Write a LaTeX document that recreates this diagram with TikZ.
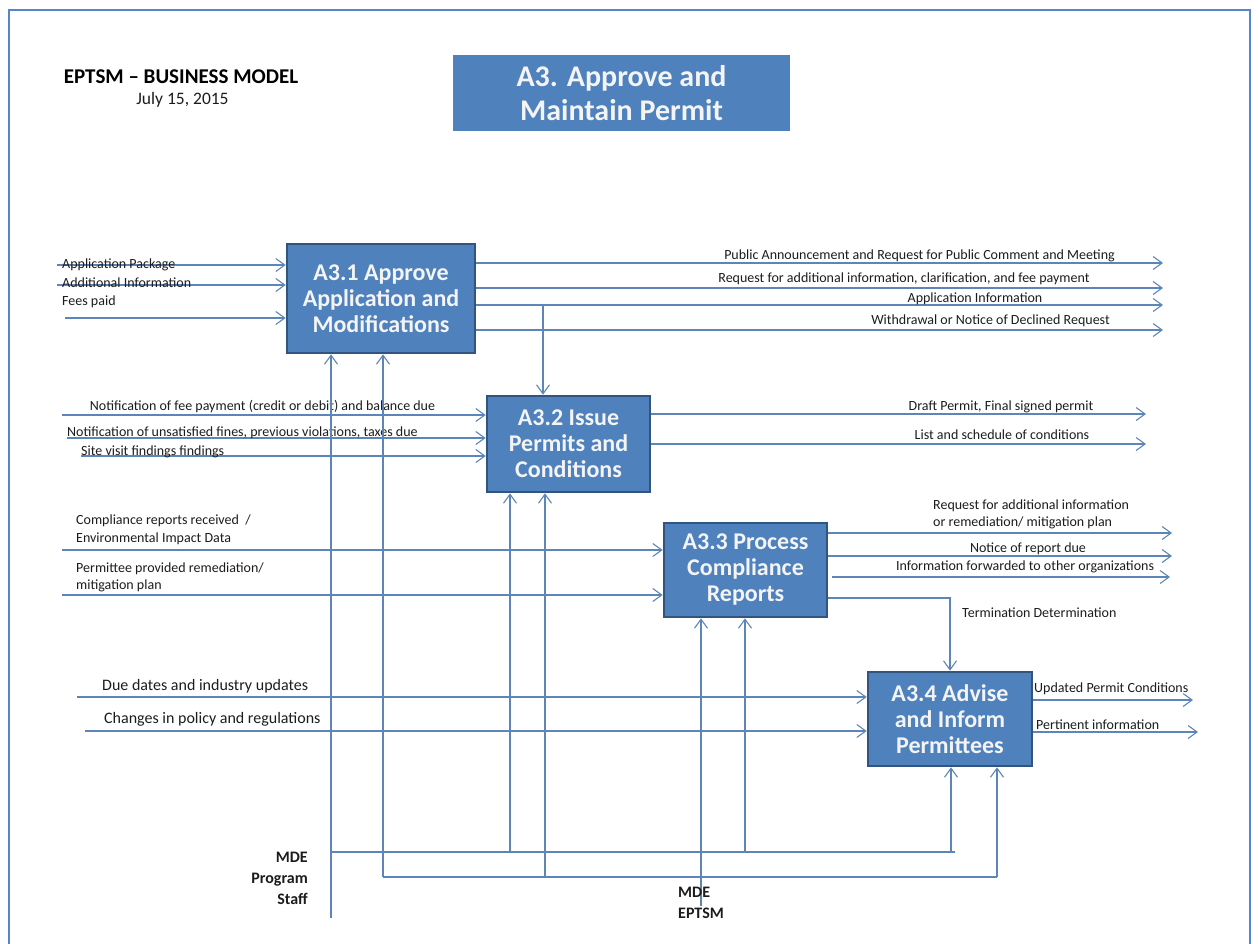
\documentclass[tikz,border=0pt]{standalone}
\usepackage{fontspec}
\setmainfont{Carlito}
\usetikzlibrary{arrows.meta}
\definecolor{procfill}{RGB}{79,129,189}
\definecolor{procedge}{RGB}{50,85,128}
\definecolor{flowline}{RGB}{92,134,184}
\definecolor{framecol}{RGB}{84,134,200}
\definecolor{labeltext}{RGB}{28,28,28}
\definecolor{boxtext}{RGB}{244,244,244}

\begin{document}
\begin{tikzpicture}[x=1pt,y=-1pt,
  proc/.style={draw=procedge, fill=procfill, line width=2.6pt, text=boxtext,
    font=\fontsize{24}{26}\selectfont\bfseries, align=center, inner sep=0pt},
  flow/.style={draw=flowline, line width=1.1pt, -{Straight Barb[length=9pt,width=13pt]}},
  wire/.style={draw=flowline, line width=1.1pt},
  lab/.style={text=labeltext, font=\fontsize{14}{17}\selectfont, inner sep=0pt},
  biglab/.style={text=labeltext, font=\fontsize{16}{19}\selectfont, inner sep=0pt},
  mechlab/.style={text=labeltext, font=\fontsize{16}{21}\selectfont\bfseries, inner sep=0pt},
]
\useasboundingbox (0,0) rectangle (1259,943);
\draw[framecol, line width=1.6pt] (9,10) rectangle (1250,990);

% heading
\node[text=black, font=\fontsize{21}{24}\selectfont\bfseries, inner sep=0pt] (model) at (181,77) {EPTSM – BUSINESS MODEL};
\node[labeltext, font=\fontsize{17.5}{21}\selectfont, inner sep=0pt] (date) at (182.5,100) {July 15, 2015};
\node[fill=procfill, minimum width=337pt, minimum height=76pt, inner sep=0pt, text=boxtext,
  font=\fontsize{30}{34}\selectfont\bfseries, align=center] (title) at (621.5,93) {A3. Approve and\\Maintain Permit};

% activity boxes
\node[proc, minimum width=188pt, minimum height=109pt] (a31) at (381,298.5) {A3.1 Approve\\Application and\\Modifications};
\node[proc, minimum width=163pt, minimum height=96pt] (a32) at (568.5,444) {A3.2 Issue\\Permits and\\Conditions};
\node[proc, minimum width=163pt, minimum height=94pt] (a33) at (745.5,570) {A3.3 Process\\Compliance\\Reports};
\node[proc, minimum width=164pt, minimum height=94pt] (a34) at (950,719) {A3.4 Advise\\and Inform\\Permittees};

% A3.1 inputs
\coordinate (i11) at (57,265);
\coordinate (i12) at (57,285);
\coordinate (i13) at (65,318);
\draw[flow] (i11) -- (i11 -| a31.west);
\draw[flow] (i12) -- (i12 -| a31.west);
\draw[flow] (i13) -- (i13 -| a31.west);
\node[lab, anchor=base west] (t11) at (62,268) {Application Package};
\node[lab, anchor=base west] (t12) at (62,287) {Additional Information};
\node[lab, anchor=base west] (t13) at (62,305) {Fees paid};

% A3.1 outputs
\coordinate (o11) at (1163,263);
\coordinate (o12) at (1163,288);
\coordinate (o13) at (1163,305);
\coordinate (o14) at (1163,330);
\draw[flow] (o11 -| a31.east) -- (o11);
\draw[flow] (o12 -| a31.east) -- (o12);
\draw[flow] (o13 -| a31.east) -- (o13);
\draw[flow] (o14 -| a31.east) -- (o14);
\node[lab, anchor=base] (u11) at (919.5,259) {Public Announcement and Request for Public Comment and Meeting};
\node[lab, anchor=base] (u12) at (904,282) {Request for additional information, clarification, and fee payment};
\node[lab, anchor=base] (u13) at (975,302) {Application Information};
\node[lab, anchor=base] (u14) at (990.5,324) {Withdrawal or Notice of Declined Request};

% application information passed on to A3.2
\coordinate (br) at (543,305);
\draw[flow] (br) -- (br |- a32.north);

% A3.2 inputs
\coordinate (i21) at (62,415);
\coordinate (i22) at (67,438);
\coordinate (i23) at (81,456);
\draw[flow] (i21) -- (i21 -| a32.west);
\draw[flow] (i22) -- (i22 -| a32.west);
\draw[flow] (i23) -- (i23 -| a32.west);
\node[lab, anchor=base] (t21) at (262.5,410) {Notification of fee payment (credit or debit) and balance due};
\node[lab, anchor=base west] (t22) at (67,436) {Notification of unsatisfied fines, previous violations, taxes due};
\node[lab, anchor=base west] (t23) at (81,455) {Site visit findings findings};

% A3.2 outputs
\coordinate (o21) at (1146,414);
\coordinate (o22) at (1146,444);
\draw[flow] (o21 -| a32.east) -- (o21);
\draw[flow] (o22 -| a32.east) -- (o22);
\node[lab, anchor=base] (u21) at (1001,410) {Draft Permit, Final signed permit};
\node[lab, anchor=base] (u22) at (1002,439) {List and schedule of conditions};

% A3.3 inputs
\coordinate (i31) at (62,550);
\coordinate (i32) at (62,595);
\draw[flow] (i31) -- (i31 -| a33.west);
\draw[flow] (i32) -- (i32 -| a33.west);
\node[lab, anchor=base west] (t31a) at (76,524) {Compliance reports received \ /};
\node[lab, anchor=base west] (t31b) at (76,542) {Environmental Impact Data};
\node[lab, anchor=base west] (t32a) at (76,572) {Permittee provided remediation/};
\node[lab, anchor=base west] (t32b) at (76,589) {mitigation plan};

% A3.3 outputs
\coordinate (o31) at (1172,533);
\coordinate (o32) at (1172,556);
\coordinate (o33) at (1170,577);
\draw[flow] (o31 -| a33.east) -- (o31);
\draw[flow] (o32 -| a33.east) -- (o32);
\draw[flow] ([xshift=4pt]o33 -| a33.east) -- (o33);
\node[lab, anchor=base west] (u31a) at (933,509) {Request for additional information};
\node[lab, anchor=base west] (u31b) at (933,526) {or remediation/ mitigation plan};
\node[lab, anchor=base] (u32) at (1028,552) {Notice of report due};
\node[lab, anchor=base] (u33) at (1025,570) {Information forwarded to other organizations};

% termination determination to A3.4
\coordinate (tk) at (950,598);
\draw[flow] (a33.east |- tk) -- (tk) -- (a34.north);
\node[lab, anchor=base west] (ttk) at (962,617) {Termination Determination};

% A3.4 inputs
\coordinate (i41) at (77,697);
\coordinate (i42) at (85,731);
\draw[flow] (i41) -- (i41 -| a34.west);
\draw[flow] (i42) -- (i42 -| a34.west);
\node[biglab, anchor=base west] (t41) at (102,690) {Due dates and industry updates};
\node[biglab, anchor=base west] (t42) at (104,723) {Changes in policy and regulations};

% A3.4 outputs
\coordinate (o41) at (1193,700);
\coordinate (o42) at (1198,732);
\draw[flow] (o41 -| a34.east) -- (o41);
\draw[flow] (o42 -| a34.east) -- (o42);
\node[lab, anchor=base west] (u41) at (1034,692) {Updated Permit Conditions};
\node[lab, anchor=base west] (u42) at (1036,729) {Pertinent information};

% mechanisms: MDE Program Staff
\coordinate (staff) at (331,918);
\coordinate (sbus) at (331,852);
\coordinate (sbusend) at (955,852);
\coordinate (s2) at (510,852);
\coordinate (s3) at (745,852);
\coordinate (s4) at (951,852);
\draw[flow] (staff) -- (staff |- a31.south);
\draw[wire] (sbus) -- (sbusend);
\draw[flow] (s2) -- (s2 |- a32.south);
\draw[flow] (s3) -- (s3 |- a33.south);
\draw[flow] (s4) -- (s4 |- a34.south);
\node[mechlab, align=right, anchor=east] (staffl) at (308,878) {MDE\\Program\\Staff};

% mechanisms: MDE EPTSM
\coordinate (ebus) at (383,877);
\coordinate (ebusend) at (997,877);
\coordinate (e2) at (545,877);
\draw[wire] (ebus) -- (ebusend);
\draw[flow] (ebus) -- (ebus |- a31.south);
\draw[flow] (e2) -- (e2 |- a32.south);
\draw[flow] (ebusend) -- (ebusend |- a34.south);
\coordinate (eptsm) at (701,906);
\draw[flow] (eptsm) -- (eptsm |- a33.south);
\node[mechlab, align=left, anchor=west] (eptsml) at (678,903) {MDE\\EPTSM};
\end{tikzpicture}
\end{document}
